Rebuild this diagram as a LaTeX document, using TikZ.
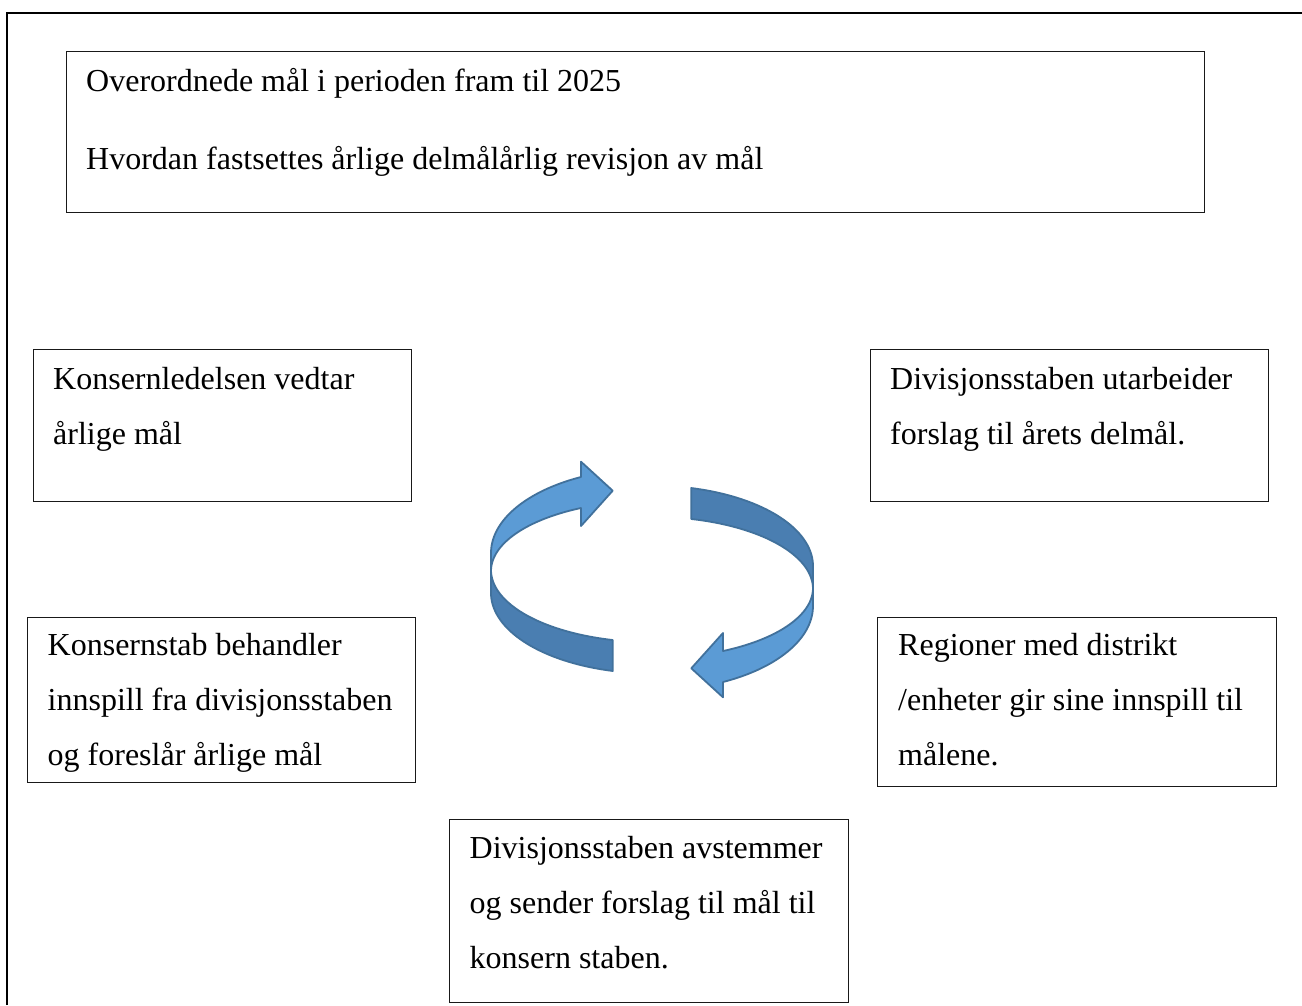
\documentclass[tikz,border=0pt]{standalone}
\usepackage{fontspec}
\setmainfont{Liberation Serif}
\usetikzlibrary{calc}

\definecolor{ringlight}{HTML}{5B9BD5}
\definecolor{ringdark}{HTML}{4A7EB1}
\definecolor{ringedge}{HTML}{41719C}

% One half of the twisted cycle ribbon: the lighter upper band ending in a head,
% and the darker lower band with a flat end.
\newcommand\cyclearrowshape{%
  \filldraw[ribbon, fill=ringlight]
    plot[domain=180:243.8, samples=40] ({652+161*cos(\x)}, {553+84.7*sin(\x)})
    -- (581,461.7) -- (612.7,490.7) -- (581,526)
    -- plot[domain=243.8:180, samples=40] ({652+161*cos(\x)}, {571+70.2*sin(\x)})
    -- cycle;
  \filldraw[ribbon, fill=ringdark]
    plot[domain=180:104.1, samples=40] ({652+161*cos(\x)}, {570+72.2*sin(\x)})
    -- plot[domain=104.1:180, samples=40] ({652+161*cos(\x)}, {593+80.4*sin(\x)})
    -- cycle;
}

\begin{document}
\begin{tikzpicture}[x=1pt, y=-1pt,
  box/.style={draw=black!90, line width=1.2pt, rectangle, inner sep=0pt, anchor=north west},
  txt/.style={anchor=base west, inner sep=0pt, text width=#1, align=flush left,
              font={\fontsize{32}{55}\selectfont},
              execute at begin node={\spaceskip=0pt\xspaceskip=0pt\relax}},
  ribbon/.style={draw=ringedge, line width=1.8pt, line join=round}]

\useasboundingbox (0,0) rectangle (1302,1005);
\fill[white] (0,0) rectangle (1302,1005);

% page frame, open towards the right and bottom
\draw[line width=2.4pt] (7,1005) -- (7,13) -- (1302,13);

% header box
\node[box, minimum width=1138pt, minimum height=161pt] (head) at (66,51) {};
\node[txt=1100pt] (headtxt) at (86,91)
  {Overordnede mål i perioden fram til 2025\\[23pt]
   Hvordan fastsettes årlige delmålårlig revisjon av mål};

% step boxes
\node[box, minimum width=378pt, minimum height=152pt] (vedtar) at (33,349) {};
\node[txt=350pt] (vedtartxt) at (53,389) {Konsernledelsen vedtar\\årlige mål};

\node[box, minimum width=398pt, minimum height=152pt] (utarb) at (870,349) {};
\node[txt=370pt] (utarbtxt) at (890,389) {Divisjonsstaben utarbeider\\forslag til årets delmål.};

\node[box, minimum width=388pt, minimum height=165pt] (behandl) at (27,617) {};
\node[txt=365pt] (behandltxt) at (47.5,655)
  {Konsernstab behandler\\innspill fra divisjonsstaben\\og foreslår årlige mål};

\node[box, minimum width=399pt, minimum height=169pt] (region) at (877,617) {};
\node[txt=370pt] (regiontxt) at (898,655)
  {Regioner med distrikt\\/enheter gir sine innspill til\\målene.};

\node[box, minimum width=399pt, minimum height=183pt] (avstem) at (449,819) {};
\node[txt=370pt] (avstemtxt) at (469.5,858)
  {Divisjonsstaben avstemmer\\og sender forslag til mål til\\konsern staben.};

% cycle symbol: two ribbon arrows, the second turned half a turn
\cyclearrowshape
\begin{scope}[rotate around={180:(652,579.5)}]
  \cyclearrowshape
\end{scope}

\end{tikzpicture}
\end{document}
